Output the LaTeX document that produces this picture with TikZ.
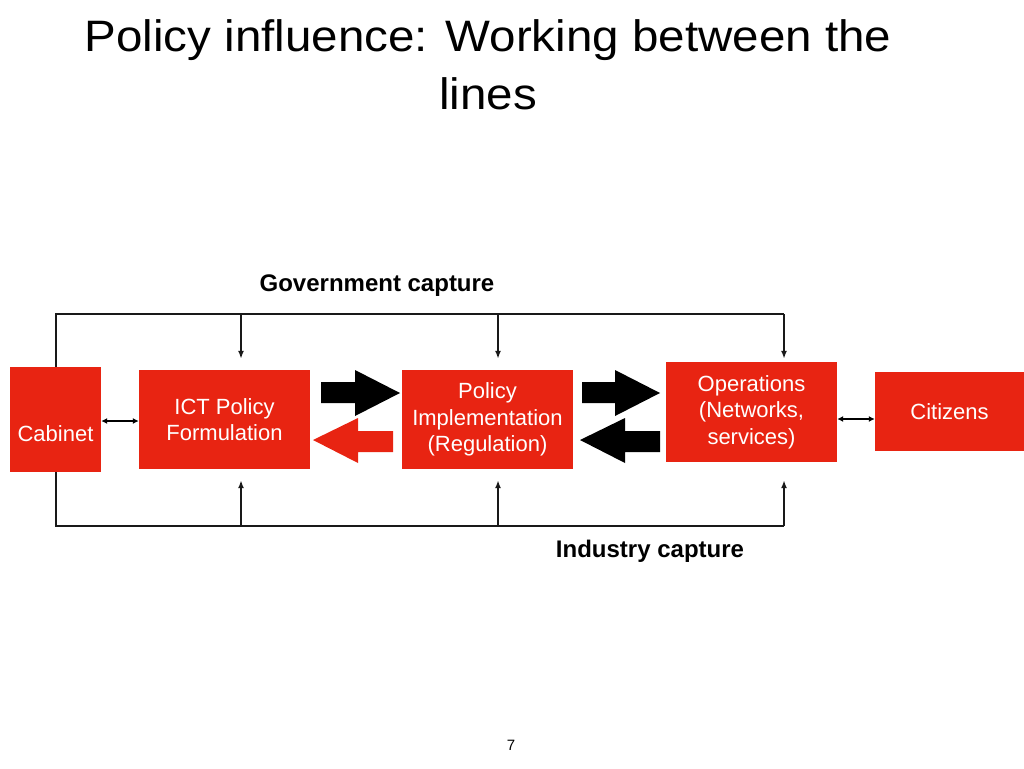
\documentclass[tikz,border=0pt]{standalone}
\usepackage{fontspec}
\setmainfont{Liberation Sans}
\newfontfamily\titlefont[FakeStretch=1.08]{Liberation Sans}
\usetikzlibrary{arrows.meta}
\definecolor{boxred}{RGB}{232,36,18}
\begin{document}
\begin{tikzpicture}[x=1pt,y=-1pt,
  box/.style={fill=boxred, draw=none, inner sep=0pt, text=white, align=center,
              font=\fontsize{22}{26}\selectfont},
  link/.style={line width=2pt, draw=black!90},
  tip/.style={-{Latex[length=8pt,width=6pt]}},
  both/.style={line width=1.6pt, {Latex[length=6pt,width=6pt]}-{Latex[length=6pt,width=6pt]}},
  caption/.style={anchor=base, font=\bfseries\fontsize{24}{28}\selectfont}]
\useasboundingbox (0,0) rectangle (1024,768);

% title
\node[anchor=base, font=\titlefont\fontsize{44}{57}\selectfont] (title1) at (488,52) {Policy influence: Working between the};
\node[anchor=base, font=\titlefont\fontsize{44}{57}\selectfont] (title2) at (488,109) {lines};

% boxes
\node[box, minimum width=91pt, minimum height=105pt] (cab) at (55.5,419.5) {};
\node[anchor=base, text=white, font=\fontsize{22}{26}\selectfont] (cabt) at (55.5,441) {Cabinet};
\node[box, minimum width=171pt, minimum height=99pt] (ict) at (224.5,419.5) {ICT Policy\\Formulation};
\node[box, minimum width=171pt, minimum height=99pt] (pi) at (487.5,419.5) {Policy\\[0.5pt]Implementation\\[0.5pt](Regulation)};
\node[box, minimum width=171pt, minimum height=100pt] (ops) at (751.5,412) {Operations\\[0.5pt](Networks,\\[0.5pt]services)};
\node[box, minimum width=149pt, minimum height=79pt] (cit) at (949.5,411.5) {Citizens};

% captions
\node[caption] (gov) at (377,291.5) {Government capture};
\node[caption] (ind) at (650,557.5) {Industry capture};
\node[anchor=base, font=\fontsize{15}{18}\selectfont] (pg) at (511,750.5) {7};

% top line
\coordinate (tr) at (784,314);
\coordinate (ta) at (241,314);
\coordinate (tb) at (498,314);
\draw[link] (cab.north) |- (tr);
\draw[link, tip, shorten >=11pt] (ta) -- (ta |- ict.north);
\draw[link, tip, shorten >=11pt] (tb) -- (tb |- pi.north);
\draw[link, tip, shorten >=3pt] (tr) -- (tr |- ops.north);

% bottom line
\coordinate (br) at (784,526);
\coordinate (ba) at (241,526);
\coordinate (bb) at (498,526);
\draw[link] (cab.south) |- (br);
\draw[link, tip, shorten >=11pt] (ba) -- (ba |- ict.south);
\draw[link, tip, shorten >=11pt] (bb) -- (bb |- pi.south);
\draw[link, tip, shorten >=18pt] (br) -- (br |- ops.south);

% small double arrows
\draw[both] (cab.east |- 0,421) -- (ict.west |- 0,421);
\draw[both] (ops.east |- 0,419) -- (cit.west |- 0,419);

% block arrows
\fill[black] (321,382) -- (355,382) -- (355,370) -- (400,393) -- (355,416) -- (355,403) -- (321,403) -- cycle;
\fill[boxred] (313,440) -- (358,418) -- (358,431) -- (393,431) -- (393,452) -- (358,452) -- (358,463) -- cycle;
\fill[black] (582,382) -- (615,382) -- (615,370) -- (660,393) -- (615,416) -- (615,403) -- (582,403) -- cycle;
\fill[black] (580,440) -- (625,418) -- (625,431) -- (660,431) -- (660,452) -- (625,452) -- (625,463) -- cycle;
\end{tikzpicture}
\end{document}
